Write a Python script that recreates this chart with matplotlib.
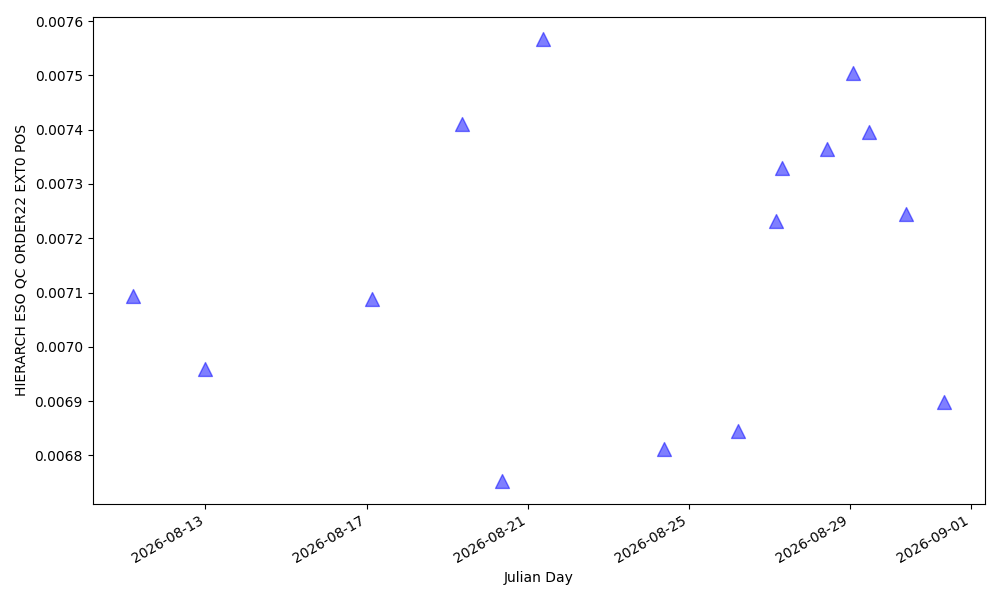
import matplotlib
matplotlib.use("Agg")
import matplotlib.pyplot as plt
import matplotlib.dates as mdates
import pandas as pd

dates = ["2026-08-11 05:00", "2026-08-12 23:30", "2026-08-17 03:00", "2026-08-19 08:40",
         "2026-08-20 08:30", "2026-08-21 09:00", "2026-08-24 09:00", "2026-08-26 05:20",
         "2026-08-27 03:50", "2026-08-27 07:30", "2026-08-28 10:20", "2026-08-29 01:40",
         "2026-08-29 11:20", "2026-08-30 09:20", "2026-08-31 08:10"]
values = [0.007094, 0.006960, 0.007089, 0.007411, 0.006752, 0.007567, 0.006811, 0.006844,
          0.007232, 0.007330, 0.007365, 0.007504, 0.007396, 0.007245, 0.006899]

x = pd.to_datetime(dates)
fig, ax = plt.subplots(figsize=(10, 6), dpi=100)
ax.scatter(x, values, marker="^", s=100, color="blue", alpha=0.5)
ax.xaxis.set_major_locator(mdates.DayLocator(bymonthday=[1, 5, 9, 13, 17, 21, 25, 29]))
ax.xaxis.set_major_formatter(mdates.DateFormatter("%Y-%m-%d"))
ax.set_xlabel("Julian Day")
ax.set_ylabel("HIERARCH ESO QC ORDER22 EXT0 POS")
fig.autofmt_xdate()
fig.tight_layout()
fig.savefig("out.png")
